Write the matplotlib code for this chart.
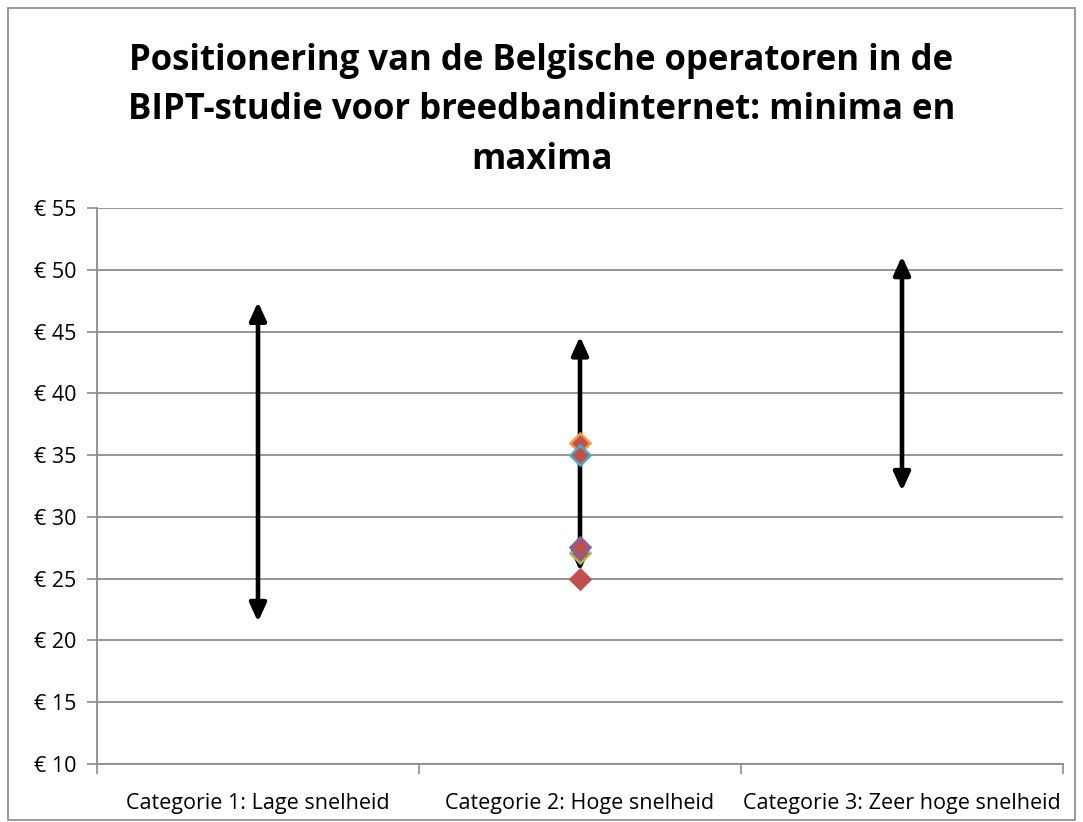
import matplotlib.pyplot as plt
from matplotlib.patches import Rectangle

# categorieën en min/max per categorie (pijlen)
categorieen = ['Categorie 1: Lage snelheid', 'Categorie 2: Hoge snelheid',
               'Categorie 3: Zeer hoge snelheid']
minima = [21.5, 25.6, 32.1]
maxima = [47.4, 44.6, 51.1]

# operatoren in categorie 2
operator_waarden = [36.0, 35.0, 27.1, 27.6, 25.0]
operator_randen = ['#F79646', '#4BACC6', '#9BBB59', '#8064A2', '#C0504D']
operator_cat = 1

yticks = [10, 15, 20, 25, 30, 35, 40, 45, 50, 55]

plt.rcParams['font.family'] = ['Open Sans', 'DejaVu Sans']

fig = plt.figure(figsize=(10.83, 8.22), dpi=100)
ax = fig.add_axes([97 / 1083, 1 - 764 / 822, (1063 - 97) / 1083, (764 - 208) / 822])

# rand rond de grafiek
fig.patches.append(Rectangle((8 / 1083, 0.002), 1067 / 1083, 1 - 0.004 - 6 / 822,
                             transform=fig.transFigure, fill=False,
                             edgecolor='#888888', lw=1.2))

for i in range(3):
    ax.annotate('', xy=(i + 0.5, maxima[i]), xytext=(i + 0.5, minima[i]),
                arrowprops=dict(arrowstyle='<|-|>,head_length=1.1,head_width=0.5',
                                color='black', lw=3.3, shrinkA=0, shrinkB=0))

for v, c in zip(operator_waarden, operator_randen):
    ax.plot(operator_cat + 0.5, v, marker='D', markersize=10,
            markerfacecolor='#C0504D', markeredgecolor=c, markeredgewidth=1.8,
            linestyle='none', zorder=5)

ax.set_xlim(0, 3)
ax.set_ylim(10, 55)
ax.set_yticks(yticks)
ax.set_yticklabels(['€ %d' % t for t in yticks], fontsize=15.5)
ax.yaxis.grid(True, color='#8c8c8c', lw=1.3)
ax.set_axisbelow(True)

ax.set_xticks([0, 1, 2, 3])
ax.set_xticklabels([])
ax.set_xticks([0.5, 1.5, 2.5], minor=True)
ax.set_xticklabels(categorieen, minor=True, fontsize=15.5)
ax.tick_params(axis='x', which='minor', length=0, pad=21)
ax.tick_params(axis='x', which='major', length=7, color='#8c8c8c', width=1.2)
ax.tick_params(axis='y', length=7, color='#8c8c8c', width=1.2, pad=8)

for s in ['top', 'right']:
    ax.spines[s].set_visible(False)
for s in ['left', 'bottom']:
    ax.spines[s].set_color('#8c8c8c')
    ax.spines[s].set_linewidth(1.3)

fig.text(0.5, 0.948, 'Positionering van de Belgische operatoren in de\n'
         'BIPT-studie voor breedbandinternet: minima en\nmaxima',
         ha='center', va='top', fontsize=25, fontweight='bold', linespacing=1.5)

fig.savefig('out.png', dpi=100)
